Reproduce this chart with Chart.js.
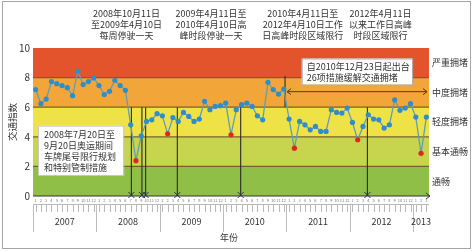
<!DOCTYPE html>
<html>
<head>
<meta charset="utf-8">
<script src="https://cdn.jsdelivr.net/npm/chart.js@4.4.1/dist/chart.umd.min.js"></script>
<style>
  html, body { margin: 0; padding: 0; background: #fff; }
  #c { display: block; }
</style>
</head>
<body>
<canvas id="c" width="474" height="252" style="width:474px;height:252px"></canvas>
<script>
// Months covered: Jan 2007 .. Mar 2013
const years = [2007, 2008, 2009, 2010, 2011, 2012, 2013];
const monthsInYear = [12, 12, 12, 12, 12, 12, 3];

// Monthly traffic index
const trafficIndex = [
  7.19, 6.24, 6.55, 7.73, 7.59, 7.46, 7.32, 6.78, 8.43, 7.53, 7.73, 7.98, // 2007
  7.46, 6.85, 7.07, 7.82, 7.46, 7.14, 4.81, 2.39, 4.07, 5.04, 5.15, 5.56, // 2008
  5.42, 4.20, 5.30, 5.04, 5.65, 5.38, 5.04, 5.20, 6.40, 5.83, 6.05, 6.10, // 2009
  6.28, 4.14, 5.83, 6.17, 6.28, 6.05, 5.42, 5.15, 7.68, 7.19, 6.89, 7.23, // 2010
  5.20, 3.23, 5.04, 4.81, 4.47, 4.70, 4.36, 4.36, 5.83, 5.65, 5.60, 5.94, // 2011
  4.97, 3.80, 4.70, 5.49, 5.20, 5.15, 4.59, 4.81, 6.50, 5.79, 5.94, 6.24, // 2012
  5.33, 2.89, 5.33                                                        // 2013
];
// months drawn in red (Spring Festival / Olympic month)
const redMonths = [19, 25, 37, 49, 61, 73];

// traffic levels
const bandEdges = [0, 2, 4, 6, 8, 10];
const bandColors = ['#8fbf46', '#c7d44d', '#efe247', '#f2a63a', '#e3532c'];
const bandLabels = ['通畅', '基本通畅', '轻度拥堵', '中度拥堵', '严重拥堵'];
const yTicks = [0, 2, 4, 6, 8, 10];

// policy start dates (vertical markers)
const policyDates = ['2008-07-20', '2008-09-20', '2008-10-11', '2009-04-11', '2010-04-11', '2012-04-11'];
const measuresDate = '2010-12-23';

// notes above the plot, centred on a month position
const topNotes = [
  ['2008年10月11日', '至2009年4月10日', '每周停驶一天'],
  ['2009年4月11日至', '2010年4月10日高', '峰时段停驶一天'],
  ['2010年4月11日至', '2012年4月10日工作', '日高峰时段区域限行'],
  ['2012年4月11日', '以来工作日高峰', '时段区域限行']
];
const topNoteAt = [17.2, 33.2, 50.6, 65.3];
const olympicNote = ['2008年7月20日至', '9月20日奥运期间', '车牌尾号限行规划', '和特别管制措施'];
const measuresNote = ['自2010年12月23日起出台', '26项措施缓解交通拥堵'];

const FONT = '"Noto Sans CJK SC", "Noto Sans", sans-serif';

// month labels 1..12 per year
const labels = [];
years.forEach((y, k) => { for (let m = 1; m <= monthsInYear[k]; m++) labels.push(String(m)); });

function dateToPos(s) {
  const [y, m, d] = s.split('-').map(Number);
  return (y - 2007) * 12 + (m - 1) - 0.5 + (d - 1) / 30;
}

function drawCross(ctx, x, y, r) {
  ctx.beginPath();
  ctx.moveTo(x - r, y - r); ctx.lineTo(x + r, y + r);
  ctx.moveTo(x + r, y - r); ctx.lineTo(x - r, y + r);
  ctx.stroke();
}

const bandsPlugin = {
  id: 'bands',
  beforeDraw(chart) {
    const { ctx, chartArea: a, scales: { y } } = chart;
    ctx.save();
    for (let i = 0; i < bandColors.length; i++) {
      const t = y.getPixelForValue(bandEdges[i + 1]);
      const b = y.getPixelForValue(bandEdges[i]);
      ctx.fillStyle = bandColors[i];
      ctx.fillRect(a.left, t, a.right - a.left, b - t);
    }
    ctx.strokeStyle = '#7a6028';
    ctx.lineWidth = 1.3;
    for (let i = 1; i < bandEdges.length - 1; i++) {
      const py = y.getPixelForValue(bandEdges[i]);
      ctx.beginPath(); ctx.moveTo(a.left, py); ctx.lineTo(a.right, py); ctx.stroke();
    }
    ctx.restore();
  },
  beforeDatasetsDraw(chart) {
    const { ctx, scales: { x, y } } = chart;
    ctx.save();
    ctx.strokeStyle = '#2b2b2b';
    ctx.lineWidth = 1.1;
    policyDates.forEach(d => {
      const px = x.getPixelForValue(dateToPos(d));
      ctx.beginPath(); ctx.moveTo(px, y.getPixelForValue(6)); ctx.lineTo(px, y.getPixelForValue(0)); ctx.stroke();
    });
    const mx = x.getPixelForValue(dateToPos(measuresDate));
    ctx.beginPath(); ctx.moveTo(mx, y.getPixelForValue(8.1)); ctx.lineTo(mx, y.getPixelForValue(6)); ctx.stroke();
    ctx.restore();
  },
  afterDraw(chart) {
    const { ctx, chartArea: a, scales: { x, y } } = chart;
    ctx.save();
    // frame
    ctx.strokeStyle = '#a5a5a5';
    ctx.lineWidth = 1;
    ctx.strokeRect(2.5, 1.5, 468, 247);

    // x axis line with arrow
    const ay = y.getPixelForValue(0);
    ctx.strokeStyle = '#333';
    ctx.lineWidth = 1;
    ctx.beginPath(); ctx.moveTo(a.left, ay); ctx.lineTo(a.right + 1, ay); ctx.stroke();
    ctx.beginPath(); ctx.moveTo(a.right - 3, ay - 3); ctx.lineTo(a.right + 1, ay); ctx.lineTo(a.right - 3, ay + 3); ctx.stroke();

    // crosses at policy lines
    ctx.strokeStyle = '#2a3550';
    ctx.lineWidth = 1;
    policyDates.forEach(d => drawCross(ctx, x.getPixelForValue(dateToPos(d)), ay - 1, 3));

    // measures arrow
    const mx = x.getPixelForValue(dateToPos(measuresDate));
    const arY = y.getPixelForValue(7.05);
    ctx.strokeStyle = '#5a3a18';
    ctx.beginPath(); ctx.moveTo(mx + 2, arY); ctx.lineTo(a.right - 2, arY); ctx.stroke();
    ctx.beginPath(); ctx.moveTo(mx + 6, arY - 3); ctx.lineTo(mx + 2, arY); ctx.lineTo(mx + 6, arY + 3); ctx.stroke();
    ctx.beginPath(); ctx.moveTo(a.right - 6, arY - 3); ctx.lineTo(a.right - 2, arY); ctx.lineTo(a.right - 6, arY + 3); ctx.stroke();

    // month tick marks and year separators
    ctx.strokeStyle = '#b9b9b9';
    for (let i = 0; i < labels.length; i++) {
      const px = Math.round(x.getPixelForValue(i)) + 0.5;
      ctx.beginPath(); ctx.moveTo(px, ay + 8); ctx.lineTo(px, ay + 16); ctx.stroke();
    }
    ctx.beginPath(); ctx.moveTo(a.left, ay + 8.5); ctx.lineTo(a.right, ay + 8.5); ctx.stroke();
    ctx.strokeStyle = '#bdbdbd';
    let start = 0;
    ctx.fillStyle = '#333';
    ctx.font = '9px ' + FONT;
    ctx.textAlign = 'center';
    ctx.textBaseline = 'middle';
    years.forEach((yr, k) => {
      const px = Math.round(x.getPixelForValue(start - 0.5)) + 0.5;
      ctx.beginPath(); ctx.moveTo(px, ay + 8); ctx.lineTo(px, ay + 36); ctx.stroke();
      const cx = x.getPixelForValue(start + (monthsInYear[k] - 1) / 2);
      ctx.fillText(String(yr), cx, ay + 26);
      start += monthsInYear[k];
    });
    ctx.font = '9px ' + FONT;
    ctx.fillText('年份', x.getPixelForValue(36.6), ay + 42);

    // level labels on the right
    ctx.textAlign = 'left';
    ctx.font = '9px ' + FONT;
    bandLabels.forEach((t, i) => {
      ctx.fillText(t, a.right + 3, y.getPixelForValue((bandEdges[i] + bandEdges[i + 1]) / 2));
    });

    // notes above the plot
    ctx.textAlign = 'center';
    ctx.font = '9px ' + FONT;
    topNotes.forEach((lines, k) => {
      const cx = x.getPixelForValue(topNoteAt[k]);
      lines.forEach((t, j) => ctx.fillText(t, cx, a.top - 34 + j * 11));
    });

    // olympic note box
    const ox0 = x.getPixelForValue(0.45), ox1 = x.getPixelForValue(16.6);
    const oy0 = y.getPixelForValue(4.75), oy1 = y.getPixelForValue(1.42);
    ctx.fillStyle = '#fff';
    ctx.fillRect(ox0, oy0, ox1 - ox0, oy1 - oy0);
    ctx.strokeStyle = '#c8c8c8';
    ctx.strokeRect(ox0 + 0.5, oy0 + 0.5, ox1 - ox0, oy1 - oy0);
    ctx.fillStyle = '#333';
    ctx.textAlign = 'left';
    olympicNote.forEach((t, j) => ctx.fillText(t, ox0 + 6, oy0 + 8.5 + j * 11));

    // measures note box
    const bx0 = x.getPixelForValue(50.4), bx1 = x.getPixelForValue(71.3);
    const by0 = y.getPixelForValue(9.29), by1 = y.getPixelForValue(7.53);
    ctx.fillStyle = '#fff';
    ctx.fillRect(bx0, by0, bx1 - bx0, by1 - by0);
    ctx.strokeStyle = '#b0b0b0';
    ctx.strokeRect(bx0 + 0.5, by0 + 0.5, bx1 - bx0, by1 - by0);
    ctx.fillStyle = '#333';
    measuresNote.forEach((t, j) => ctx.fillText(t, bx0 + 5, by0 + 8 + j * 11.5));
    ctx.restore();
  }
};

new Chart(document.getElementById('c'), {
  type: 'line',
  data: {
    labels,
    datasets: [{
      label: '交通指数',
      data: trafficIndex,
      borderColor: '#5e9fb6',
      borderWidth: 1.3,
      tension: 0,
      pointRadius: 2.6,
      pointBorderWidth: 0,
      pointBackgroundColor: trafficIndex.map((_, i) => redMonths.includes(i) ? '#e0271d' : '#2f8ec8')
    }]
  },
  options: {
    responsive: false,
    animation: false,
    layout: { padding: { top: 48, right: 45, left: 0, bottom: 0 } },
    plugins: { legend: { display: false }, tooltip: { enabled: false } },
    scales: {
      x: {
        type: 'category',
        offset: true,
        grid: { display: false, drawTicks: false },
        border: { display: false },
        ticks: { autoSkip: false, maxRotation: 0, padding: 2, color: '#777', font: { size: 4, family: FONT } },
        afterFit(s) { s.height = 56; }
      },
      y: {
        min: 0, max: 10,
        afterBuildTicks(s) { s.ticks = yTicks.map(v => ({ value: v })); },
        grid: { display: false, drawTicks: false },
        border: { display: false },
        ticks: { padding: 3, color: '#333', font: { size: 10, family: FONT } },
        title: { display: true, text: '交通指数', color: '#333', font: { size: 9.5, family: FONT }, padding: { top: 7, bottom: 0 } },
        afterFit(s) { s.width = 33; }
      }
    }
  },
  plugins: [bandsPlugin]
});
</script>
</body>
</html>
